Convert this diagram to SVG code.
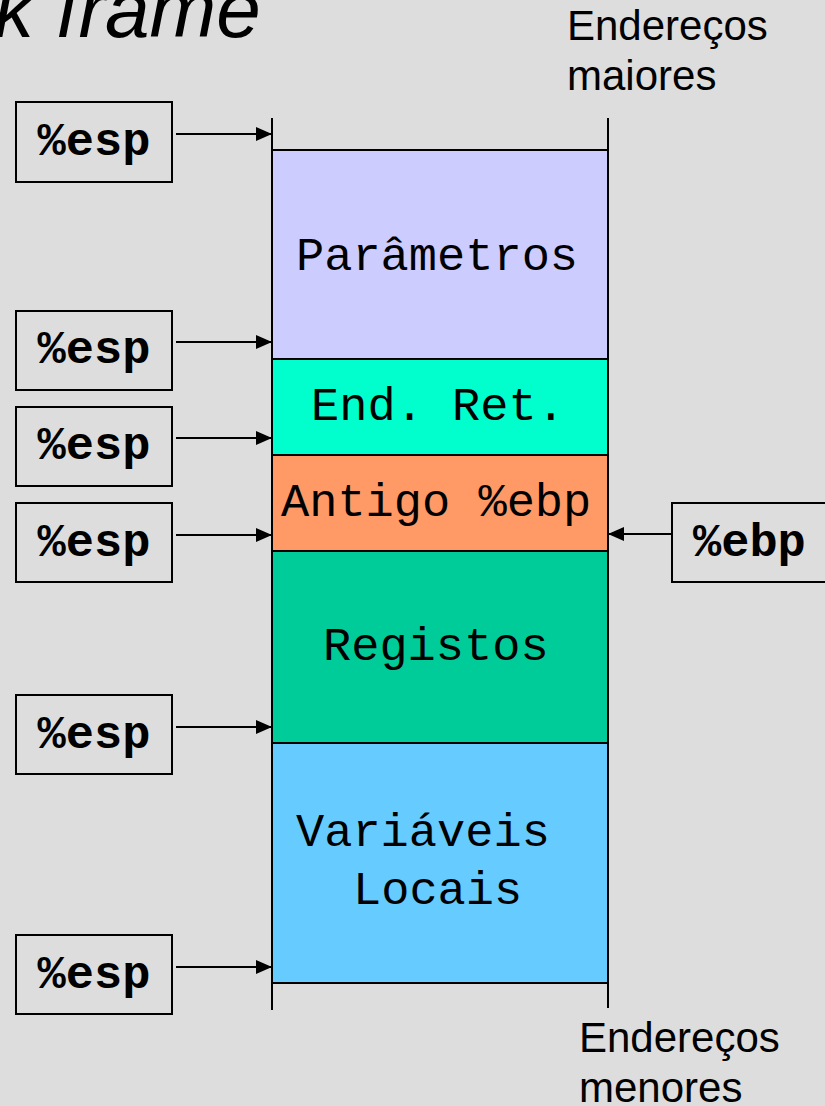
<svg xmlns="http://www.w3.org/2000/svg" width="825" height="1106" viewBox="0 0 825 1106">
  <style>
    .reg rect { fill: none; stroke: #000; stroke-width: 2; }
    .reg text { font-family: "Liberation Mono", "Courier New", monospace; font-weight: bold; font-size: 47px; fill: #000; }
    .slot rect { stroke: #000; stroke-width: 2; }
    .slot text { font-family: "Liberation Mono", "Courier New", monospace; font-size: 47px; fill: #000; }
    .label { font-family: "Liberation Sans", Arial, sans-serif; font-size: 42px; fill: #000; }
    .wire { stroke: #000; stroke-width: 2; fill: none; }
  </style>
  <defs>
    <marker id="head" viewBox="0 0 16 14" refX="16" refY="7" markerWidth="16" markerHeight="14" markerUnits="userSpaceOnUse" orient="auto">
      <path d="M0,0 L16,7 L0,14 Z" fill="#000"/>
    </marker>
  </defs>

  <rect width="825" height="1106" fill="#dddddd"/>

  <!-- heading -->
  <text x="-6" y="37" font-family="Liberation Sans, Arial, sans-serif" font-style="italic" font-size="80" fill="#000">k frame</text>

  <!-- address direction notes -->
  <g id="addr-high">
    <text class="label" x="567" y="40">Endereços</text>
    <text class="label" x="567" y="90">maiores</text>
  </g>
  <g id="addr-low">
    <text class="label" x="579" y="1052">Endereços</text>
    <text class="label" x="579" y="1102">menores</text>
  </g>

  <!-- stack slots -->
  <g id="slot-params" class="slot">
    <rect x="272" y="150" width="336" height="209" fill="#ccccff"/>
    <text x="296" y="270">Parâmetros</text>
  </g>
  <g id="slot-ret" class="slot">
    <rect x="272" y="359" width="336" height="96" fill="#00ffcc"/>
    <text x="311" y="420">End. Ret.</text>
  </g>
  <g id="slot-oldebp" class="slot">
    <rect x="272" y="455" width="336" height="96" fill="#ff9966"/>
    <text x="281" y="516">Antigo %ebp</text>
  </g>
  <g id="slot-regs" class="slot">
    <rect x="272" y="551" width="336" height="192" fill="#00cc99"/>
    <text x="323" y="660">Registos</text>
  </g>
  <g id="slot-locals" class="slot">
    <rect x="272" y="743" width="336" height="240" fill="#66ccff"/>
    <text x="296" y="846">Variáveis</text>
    <text x="353" y="904">Locais</text>
  </g>

  <!-- stack pointer / frame pointer boxes -->
  <g id="esp-1" class="reg">
    <rect x="16" y="102" width="156" height="80"/>
    <text x="94" y="155" text-anchor="middle">%esp</text>
  </g>
  <g id="esp-2" class="reg">
    <rect x="16" y="311" width="156" height="79"/>
    <text x="94" y="363" text-anchor="middle">%esp</text>
  </g>
  <g id="esp-3" class="reg">
    <rect x="16" y="407" width="156" height="79"/>
    <text x="94" y="459" text-anchor="middle">%esp</text>
  </g>
  <g id="esp-4" class="reg">
    <rect x="16" y="503" width="156" height="79"/>
    <text x="94" y="556" text-anchor="middle">%esp</text>
  </g>
  <g id="esp-5" class="reg">
    <rect x="16" y="695" width="156" height="79"/>
    <text x="94" y="748" text-anchor="middle">%esp</text>
  </g>
  <g id="esp-6" class="reg">
    <rect x="16" y="935" width="156" height="79"/>
    <text x="94" y="988" text-anchor="middle">%esp</text>
  </g>
  <g id="ebp" class="reg">
    <rect x="672" y="503" width="170" height="79"/>
    <text x="693" y="556">%ebp</text>
  </g>

  <!-- column edges and pointer arrows -->
  <g id="connectors">
    <line class="wire" x1="272" y1="118" x2="272" y2="1010"/>
    <line class="wire" x1="608" y1="118" x2="608" y2="1008"/>
    <line class="wire" x1="176" y1="134" x2="272" y2="134" marker-end="url(#head)"/>
    <line class="wire" x1="176" y1="342" x2="272" y2="342" marker-end="url(#head)"/>
    <line class="wire" x1="176" y1="438" x2="272" y2="438" marker-end="url(#head)"/>
    <line class="wire" x1="176" y1="535" x2="272" y2="535" marker-end="url(#head)"/>
    <line class="wire" x1="176" y1="727" x2="272" y2="727" marker-end="url(#head)"/>
    <line class="wire" x1="176" y1="967" x2="272" y2="967" marker-end="url(#head)"/>
    <line class="wire" x1="672" y1="534" x2="608" y2="534" marker-end="url(#head)"/>
  </g>
</svg>
